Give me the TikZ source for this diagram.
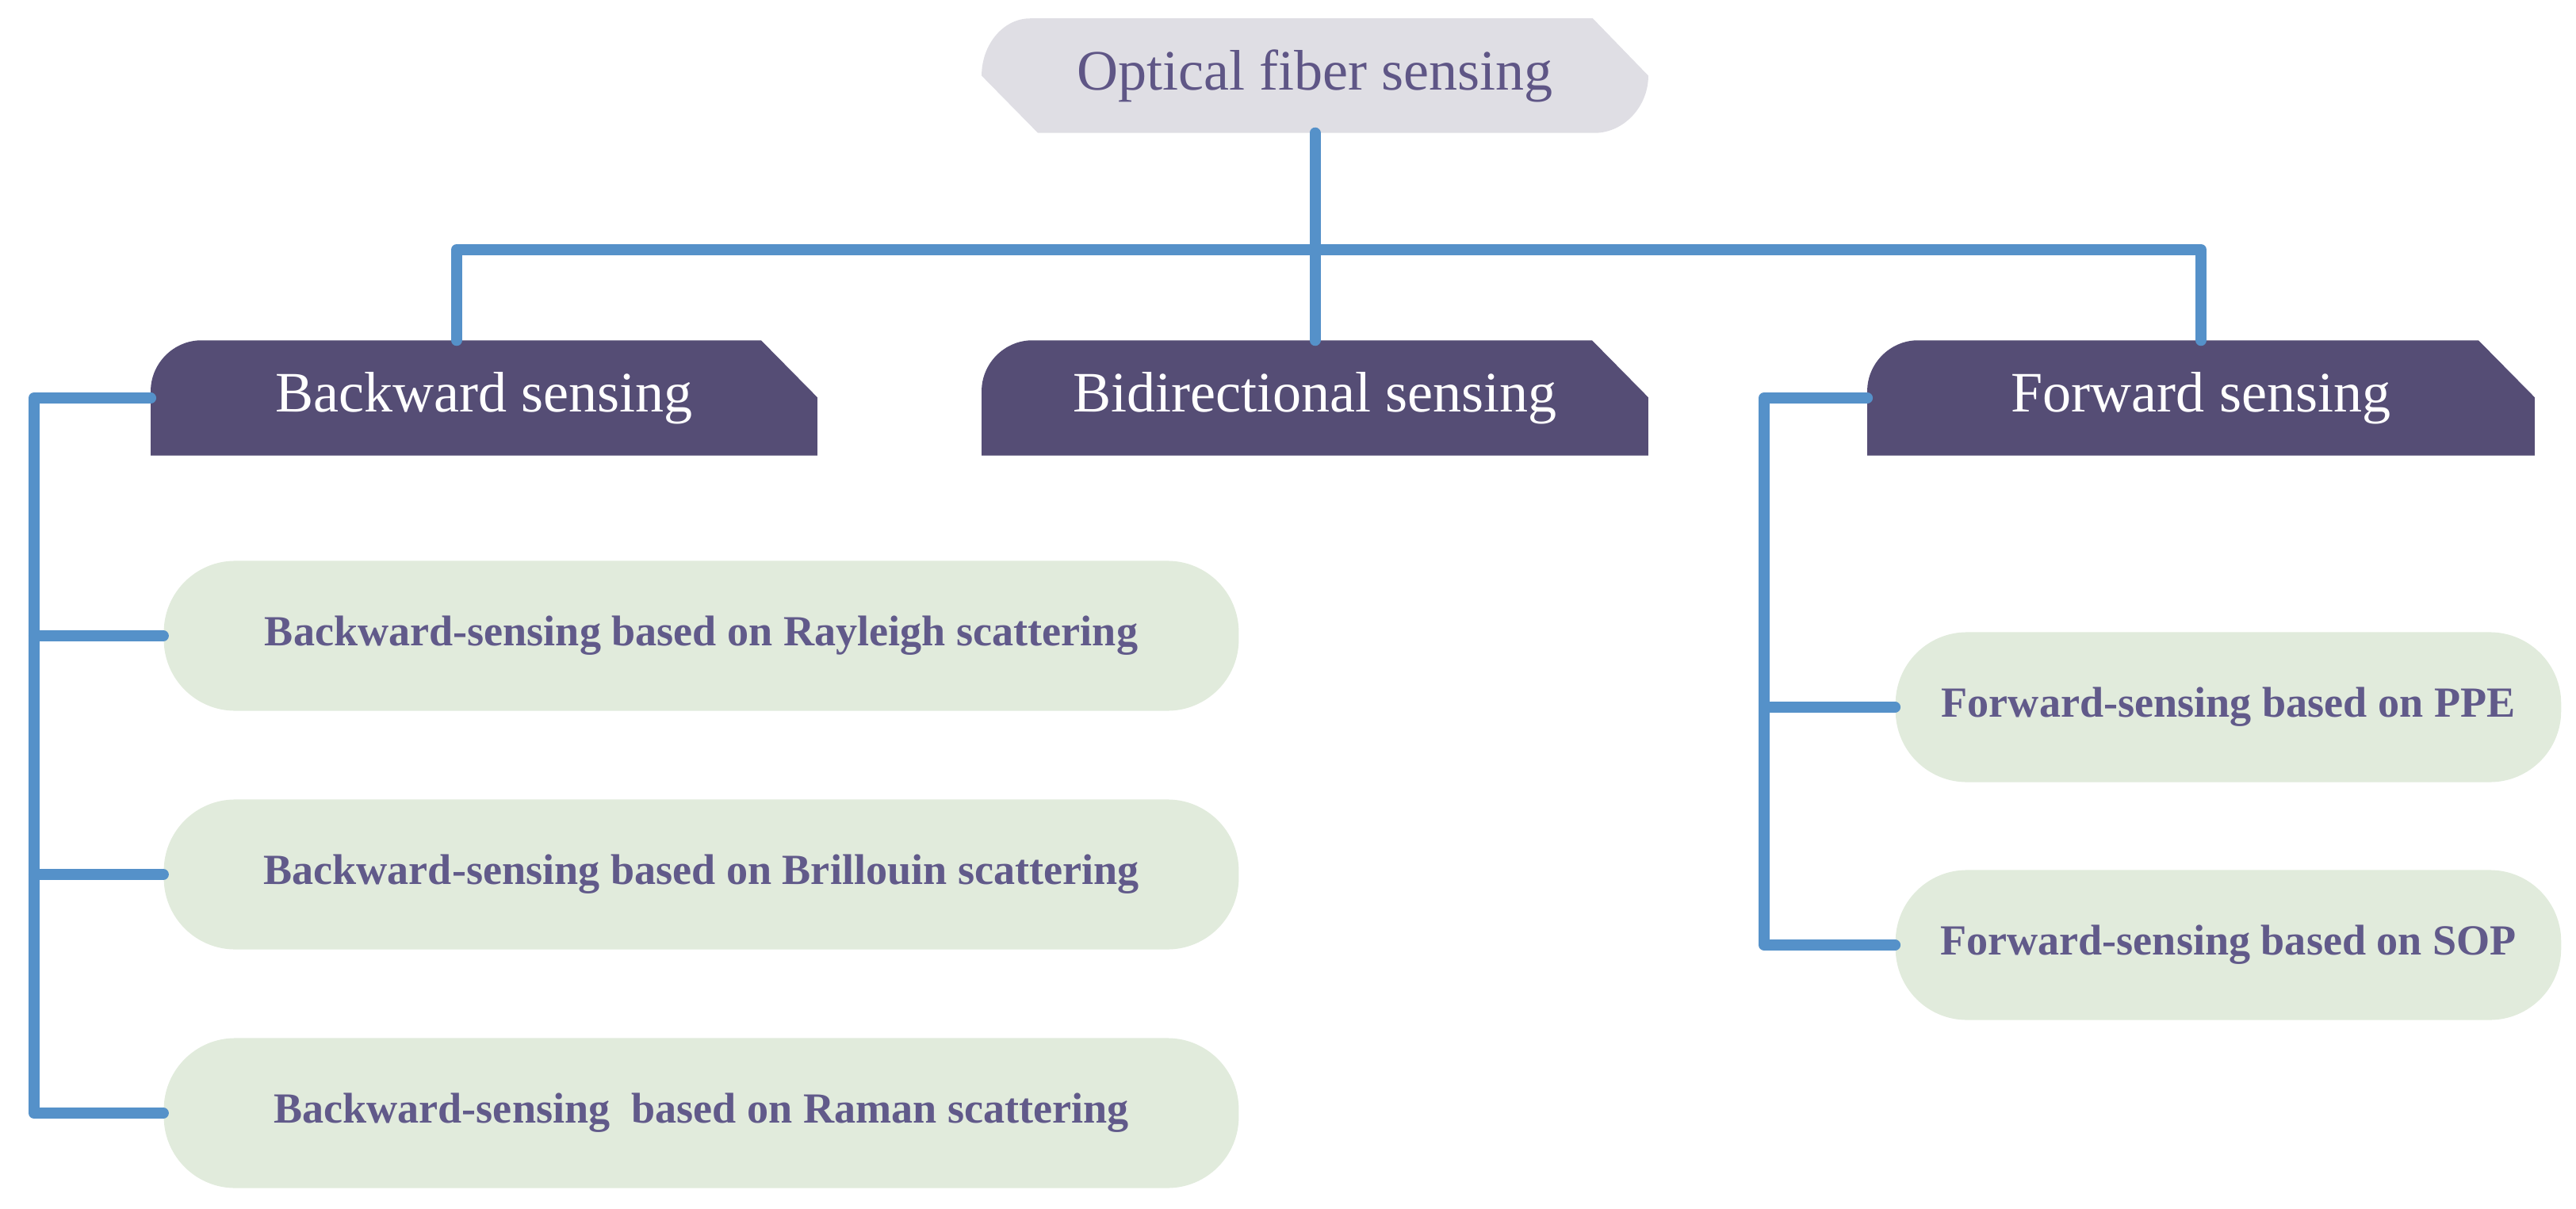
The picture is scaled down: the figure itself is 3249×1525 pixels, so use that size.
\documentclass[tikz,border=0pt]{standalone}
\usepackage{fontspec}
\setmainfont{Liberation Serif}
\usetikzlibrary{backgrounds}
\definecolor{topfill}{HTML}{DFDEE4}
\definecolor{toptext}{HTML}{5F5686}
\definecolor{tabfill}{HTML}{554D75}
\definecolor{leaffill}{HTML}{E1EBDC}
\definecolor{leaftext}{HTML}{615A8A}
\definecolor{linkblue}{HTML}{5591C9}
% fill behind a tab node: round top left, cut top right
\newcommand\tabfill[2]{%
  \fill[#2] (#1.south west) -- ([yshift=-0.64cm]#1.north west)
    .. controls ([yshift=-0.29cm]#1.north west) and ([xshift=0.29cm]#1.north west) .. ([xshift=0.64cm]#1.north west)
    -- ([xshift=-0.71cm]#1.north east) -- ([yshift=-0.72cm]#1.north east)
    -- (#1.south east) -- cycle;}
\begin{document}
\begin{tikzpicture}[x=0.01cm,y=-0.01cm,
    root/.style={inner sep=0pt,minimum width=8.39cm,minimum height=1.43cm,
      text=toptext,font=\fontsize{20.5pt}{24pt}\selectfont},
    tab/.style={inner sep=0pt,minimum width=8.39cm,minimum height=1.44cm,
      text=white,font=\fontsize{20.5pt}{24pt}\selectfont},
    leaf/.style={fill=leaffill,rounded corners=0.9cm,inner sep=0pt,minimum height=1.89cm,
      text=leaftext,font=\bfseries\fontsize{15.4pt}{18pt}\selectfont},
    link/.style={draw=linkblue,line width=0.14cm,line cap=round,line join=round}]
    \useasboundingbox (0,0) rectangle (3249,1525);
    \node[root] (top) at (1658.5,95.5) {Optical fiber sensing};
    \node[tab] (back) at (610.5,502) {Backward sensing};
    \node[tab] (bidi) at (1658.5,502) {Bidirectional sensing};
    \node[tab,minimum width=8.40cm] (fwd) at (2776,502) {Forward sensing};
    \node[leaf,minimum width=13.55cm] (ray) at (884.5,802) {Backward-sensing based on Rayleigh scattering};
    \node[leaf,minimum width=13.55cm] (bri) at (884.5,1103) {Backward-sensing based on Brillouin scattering};
    \node[leaf,minimum width=13.55cm] (ram) at (884.5,1404) {Backward-sensing~ based on Raman scattering};
    \node[leaf,minimum width=8.39cm] (ppe) at (2810.5,892) {Forward-sensing based on PPE};
    \node[leaf,minimum width=8.39cm] (sop) at (2810.5,1192) {Forward-sensing based on SOP};
    \begin{scope}[on background layer]
      \fill[topfill] ([xshift=0.71cm]top.south west) -- (top.west)
        .. controls ([yshift=0.39cm]top.west) and ([xshift=0.27cm]top.north west) .. ([xshift=0.61cm]top.north west)
        -- ([xshift=-0.70cm]top.north east) -- (top.east)
        .. controls ([yshift=-0.39cm]top.east) and ([xshift=-0.31cm]top.south east) .. ([xshift=-0.68cm]top.south east)
        -- cycle;
      \tabfill{back}{tabfill}
      \tabfill{bidi}{tabfill}
      \tabfill{fwd}{tabfill}
    \end{scope}
    \coordinate (bus) at (1658.5,315);
    \coordinate (bl) at (43,502);
    \coordinate (fl) at (2225,502);
    \draw[link] (top.south) -- (bidi.north);
    \draw[link] ([xshift=-0.345cm]back.north) |- (fwd.north |- bus) -- (fwd.north);
    \draw[link] (back.west) -- (bl) |- (ram.west);
    \draw[link] (bl |- ray.west) -- (ray.west);
    \draw[link] (bl |- bri.west) -- (bri.west);
    \draw[link] (fwd.west) -- (fl) |- (sop.west);
    \draw[link] (fl |- ppe.west) -- (ppe.west);
  \end{tikzpicture}
\end{document}
